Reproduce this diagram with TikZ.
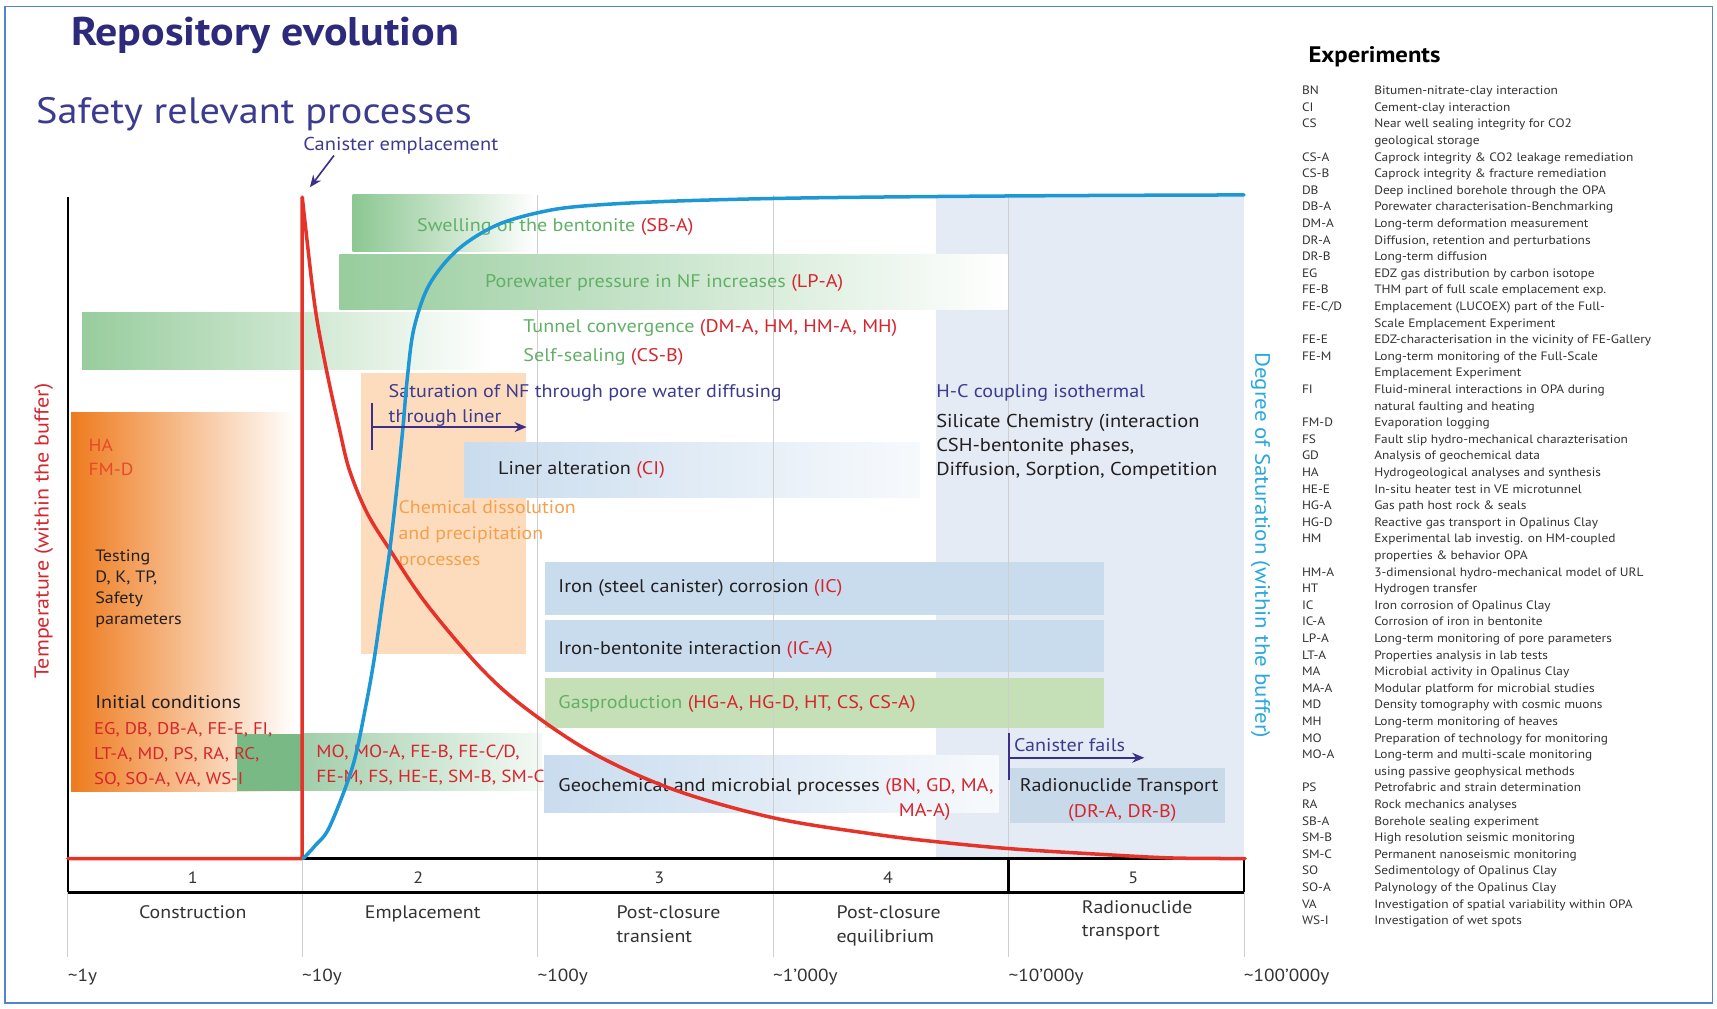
\documentclass[tikz,border=0pt]{standalone}
\usepackage{fontspec}
\setmainfont{PT Sans}[FakeStretch=1.1]
\usetikzlibrary{arrows.meta}
\definecolor{navy}{HTML}{2D2A7B}
\definecolor{navyb}{HTML}{3C3C8F}
\definecolor{navyarrow}{HTML}{3B2F8A}
\definecolor{tred}{HTML}{D6262D}
\definecolor{hared}{HTML}{E54B2B}
\definecolor{tgreen}{HTML}{62B066}
\definecolor{torange}{HTML}{F4A04C}
\definecolor{curvered}{HTML}{E5332A}
\definecolor{curveblue}{HTML}{1D98D5}
\definecolor{satblue}{HTML}{29A8DF}
\definecolor{boxblue}{HTML}{C9DCEE}
\definecolor{radblue}{HTML}{C8DAEA}
\definecolor{bgblue}{HTML}{E4EBF4}
\definecolor{gasgreen}{HTML}{C5E0B6}
\definecolor{mgreen}{HTML}{8CC792}
\definecolor{dgreen}{HTML}{79B986}
\definecolor{dorange}{HTML}{EE7B1E}
\definecolor{peach}{HTML}{FDDCBD}
\definecolor{gridgrey}{HTML}{CFCFCF}
\definecolor{frameblue}{HTML}{4F86D0}
\definecolor{listgrey}{HTML}{333333}
\definecolor{bodyblack}{HTML}{231F20}
\newcommand{\fsz}[2]{\fontsize{#1}{#2}\selectfont}
\newcommand{\mlines}[1]{\begin{tabular}[t]{@{}l@{}}#1\end{tabular}}
\newcommand{\rf}[1]{{\color{tred}#1}}
\begin{document}
\begin{tikzpicture}[x=1pt,y=-1pt,
  t/.style={inner sep=0pt, outer sep=0pt, anchor=base west, font=\fsz{16.7}{23}, text=bodyblack},
  tc/.style={t, anchor=base},
  lst/.style={inner sep=0pt, outer sep=0pt, anchor=base west, font=\fsz{11.1}{13}, text=listgrey},
  yr/.style={t, font=\fsz{16}{18}, text=listgrey},
  ph/.style={t, font=\fsz{16.5}{21.5}, text=listgrey},
  gridl/.style={draw=gridgrey, line width=0.8pt},
  axisl/.style={draw=black, line width=2pt},
  arr/.style={draw=navyarrow, line width=1.8pt, -{Stealth[length=11pt,width=9pt]}},
  tick/.style={draw=navyarrow, line width=1.8pt},
]
\useasboundingbox (0,0) rectangle (1568,921);
\fill[white] (0,0) rectangle (1568,921);
\draw[frameblue, line width=1.2pt] (4.5,6) rectangle (1564,916);

% ---------- background boxes ----------
\fill[bgblue] (855,178) rectangle (1136,784);
\shade[left color=mgreen, right color=white] (322,178) rectangle (490,230);
\shade[left color=mgreen!90, right color=white] (310,232) rectangle (920,283);
\shade[left color=mgreen!90, right color=white] (75,285) rectangle (450,337);
\shade[left color=dorange, right color=white] (65,377) rectangle (270,723);
\fill[dgreen] (216,670) rectangle (276,722);
\shade[left color=dgreen!70, right color=dgreen!8] (276,670) rectangle (495,722);
\fill[peach] (330,341) rectangle (480,597);
\shade[left color=boxblue, right color=boxblue!15] (424,404) rectangle (840,454);
\fill[boxblue] (498,513) rectangle (1008,562);
\fill[boxblue] (498,566) rectangle (1008,614);
\fill[gasgreen] (498,619) rectangle (1008,665);
\shade[left color=boxblue, right color=boxblue!15] (497,690) rectangle (912,742);
\fill[radblue] (922,701) rectangle (1119,752);

% ---------- grid lines ----------
\foreach \gx in {491,706,921} { \draw[gridl] (\gx,178) -- (\gx,874); }
\foreach \gx in {62,276,1136} { \draw[gridl] (\gx,815) -- (\gx,874); }
\draw[gridl] (276,784) -- (276,815);

% ---------- axis box ----------
\draw[axisl] (62,180) -- (62,815);
\draw[axisl] (62,784) -- (1136,784);
\draw[axisl] (62,815) -- (1136,815);
\draw[axisl] (1136,784) -- (1136,815);
\draw[axisl] (921,784) -- (921,815);

% ---------- titles ----------
\node[t, font=\fsz{36.5}{38}\bfseries, text=navy] (title) at (65,42) {Repository evolution};
\node[t, font=\fsz{33.5}{36}, text=navyb] (safety) at (33,113) {Safety relevant processes};
\node[t, font=\fsz{17}{20}, text=navyb] (canemp) at (277,137) {Canister emplacement};

% ---------- process texts ----------
\node[t, text=tgreen] (swell) at (381,211) {Swelling of the bentonite \rf{(SB-A)}};
\node[t, text=tgreen] (porew) at (443,263) {Porewater pressure in NF increases \rf{(LP-A)}};
\node[t, text=tgreen, font=\fsz{16.7}{26}] (tunnel) at (478,304) {\mlines{Tunnel convergence \rf{(DM-A, HM, HM-A, MH)}\\Self-sealing \rf{(CS-B)}}};
\node[t, text=navyb, font=\fsz{16.7}{23}] (satur) at (355,363) {\mlines{Saturation of NF through pore water diffusing\\through liner}};
\node[t] (liner) at (455,433) {Liner alteration \rf{(CI)}};
\node[t, text=torange, font=\fsz{16.5}{23.5}] (chem) at (364,469) {\mlines{Chemical dissolution\\and precipitation\\processes}};
\node[t, text=hared, font=\fsz{16}{22}] (ha) at (81,412) {\mlines{HA\\FM-D}};
\node[t, font=\fsz{15}{19}] (testing) at (87,513) {\mlines{Testing\\D, K, TP,\\Safety\\parameters}};
\node[t, font=\fsz{16.8}{20}] (initc) at (87,647) {Initial conditions};
\node[t, text=tred, font=\fsz{15.5}{22.5}] (initr) at (86,671) {\mlines{EG, DB, DB-A, FE-E, FI,\\LT-A, MD, PS, RA, RC,\\SO, SO-A, VA, WS-I}};
\node[t, text=tred, font=\fsz{16}{23}] (mo) at (289,692) {\mlines{MO, MO-A, FE-B, FE-C/D,\\FE-M, FS, HE-E, SM-B, SM-C}};
\node[t] (iron) at (510,541) {Iron (steel canister) corrosion \rf{(IC)}};
\node[t] (ironb) at (510,598) {Iron-bentonite interaction \rf{(IC-A)}};
\node[t, text=tgreen] (gas) at (510,647) {Gasproduction \rf{(HG-A, HG-D, HT, CS, CS-A)}};
\node[t] (geo) at (510,723) {Geochemical and microbial processes \rf{(BN, GD, MA,}};
\node[t, anchor=base east, text=tred] (geo2) at (868,746) {MA-A)};
\node[tc] (radio) at (1022,723) {Radionuclide Transport};
\node[tc, text=tred] (radio2) at (1025,747) {(DR-A, DR-B)};
\node[t, text=navyb] (canfail) at (926,686) {Canister fails};
\node[t, text=navyb] (hc) at (855,363) {H-C coupling isothermal};
\node[t, font=\fsz{17}{22}] (sil) at (855,390) {\mlines{Silicate Chemistry (interaction\\CSH-bentonite phases,\\Diffusion, Sorption, Competition}};

% ---------- axis labels ----------
\node[inner sep=0pt, font=\fsz{18.3}{20}, text=tred, rotate=90] (templbl) at (40,485) {Temperature (within the buffer)};
\node[inner sep=0pt, font=\fsz{19}{20}, text=satblue, rotate=-90] (satlbl) at (1151,498) {Degree of Saturation (within the buffer)};

% ---------- phase numbers and names ----------
\node[tc, font=\fsz{15}{18}, text=listgrey] (n1) at (176,807) {1};
\node[tc, font=\fsz{15}{18}, text=listgrey] (n2) at (382,807) {2};
\node[tc, font=\fsz{15}{18}, text=listgrey] (n3) at (602,807) {3};
\node[tc, font=\fsz{15}{18}, text=listgrey] (n4) at (811,807) {4};
\node[tc, font=\fsz{15}{18}, text=listgrey] (n5) at (1035,807) {5};
\node[ph, anchor=base] (p1) at (176,839) {Construction};
\node[ph, anchor=base] (p2) at (386,839) {Emplacement};
\node[ph] (p3) at (563,839) {\mlines{Post-closure\\transient}};
\node[ph] (p4) at (764,839) {\mlines{Post-closure\\equilibrium}};
\node[ph] (p5) at (988,834) {\mlines{Radionuclide\\transport}};
\node[yr] (y1) at (62,896) {\textasciitilde 1y};
\node[yr] (y2) at (276,896) {\textasciitilde 10y};
\node[yr] (y3) at (491,896) {\textasciitilde 100y};
\node[yr] (y4) at (706,896) {\textasciitilde 1’000y};
\node[yr] (y5) at (921,896) {\textasciitilde 10’000y};
\node[yr] (y6) at (1136,896) {\textasciitilde 100’000y};

% ---------- curves ----------
\draw[curvered, line width=3.2pt, line join=round, line cap=round]
  (62,784) -- (276,784) -- (276,180)
  plot[smooth, tension=0.55] coordinates {(276,180) (281,225) (286,268) (291,301) (300,347) (310,392) (319,429) (335,468) (356,502) (389,551) (438,609) (479,646) (540,687) (615,721) (707,747) (800,762) (858,769) (922,775) (1002,780) (1070,783.5) (1137,784)};
\draw[curveblue, line width=3.2pt, line cap=round]
  plot[smooth, tension=0.55] coordinates {(277,784) (288,772) (301,755) (322,700) (334,645) (342,600) (349,551) (356,502) (363,440) (368,390) (372,345) (378,300) (392,260) (418,228) (455,205) (502,192) (548,187) (620,183.5) (720,181) (850,179.5) (1000,178.5) (1136,178)};

% ---------- arrows ----------
\coordinate (ce1) at (305,142);
\coordinate (ce2) at (283,171);
\draw[arr, line width=1.5pt] (ce1) -- (ce2);
\coordinate (st1) at (340,368);
\coordinate (st2) at (340,411);
\coordinate (sa1) at (340,390);
\coordinate (sa2) at (481,390);
\draw[tick] (st1) -- (st2);
\draw[arr] (sa1) -- (sa2);
\coordinate (ct1) at (921,669);
\coordinate (ct2) at (921,712);
\coordinate (ca1) at (921,692);
\coordinate (ca2) at (1045,692);
\draw[tick] (ct1) -- (ct2);
\draw[arr] (ca1) -- (ca2);

% ---------- experiments list ----------
\node[t, font=\fsz{20.5}{22}\bfseries, text=black] (exphead) at (1195,57) {Experiments};
\foreach \ab/\de [count=\i] in {
 {BN}/{Bitumen-nitrate-clay interaction},
 {CI}/{Cement-clay interaction},
 {CS}/{Near well sealing integrity for CO2},
 {}/{geological storage},
 {CS-A}/{Caprock integrity \& CO2 leakage remediation},
 {CS-B}/{Caprock integrity \& fracture remediation},
 {DB}/{Deep inclined borehole through the OPA},
 {DB-A}/{Porewater characterisation-Benchmarking},
 {DM-A}/{Long-term deformation measurement},
 {DR-A}/{Diffusion, retention and perturbations},
 {DR-B}/{Long-term diffusion},
 {EG}/{EDZ gas distribution by carbon isotope},
 {FE-B}/{THM part of full scale emplacement exp.},
 {FE-C/D}/{Emplacement (LUCOEX) part of the Full-},
 {}/{Scale Emplacement Experiment},
 {FE-E}/{EDZ-characterisation in the vicinity of FE-Gallery},
 {FE-M}/{Long-term monitoring of the Full-Scale},
 {}/{Emplacement Experiment},
 {FI}/{Fluid-mineral interactions in OPA during},
 {}/{natural faulting and heating},
 {FM-D}/{Evaporation logging},
 {FS}/{Fault slip hydro-mechanical charazterisation},
 {GD}/{Analysis of geochemical data},
 {HA}/{Hydrogeological analyses and synthesis},
 {HE-E}/{In-situ heater test in VE microtunnel},
 {HG-A}/{Gas path host rock \& seals},
 {HG-D}/{Reactive gas transport in Opalinus Clay},
 {HM}/{Experimental lab investig. on HM-coupled},
 {}/{properties \& behavior OPA},
 {HM-A}/{3-dimensional hydro-mechanical model of URL},
 {HT}/{Hydrogen transfer},
 {IC}/{Iron corrosion of Opalinus Clay},
 {IC-A}/{Corrosion of iron in bentonite},
 {LP-A}/{Long-term monitoring of pore parameters},
 {LT-A}/{Properties analysis in lab tests},
 {MA}/{Microbial activity in Opalinus Clay},
 {MA-A}/{Modular platform for microbial studies},
 {MD}/{Density tomography with cosmic muons},
 {MH}/{Long-term monitoring of heaves},
 {MO}/{Preparation of technology for monitoring},
 {MO-A}/{Long-term and multi-scale monitoring},
 {}/{using passive geophysical methods},
 {PS}/{Petrofabric and strain determination},
 {RA}/{Rock mechanics analyses},
 {SB-A}/{Borehole sealing experiment},
 {SM-B}/{High resolution seismic monitoring},
 {SM-C}/{Permanent nanoseismic monitoring},
 {SO}/{Sedimentology of Opalinus Clay},
 {SO-A}/{Palynology of the Opalinus Clay},
 {VA}/{Investigation of spatial variability within OPA},
 {WS-I}/{Investigation of wet spots}} {
  \node[lst] (ab\i) at (1189,{86.5+(\i-1)*15.16}) {\ab};
  \node[lst] (de\i) at (1255,{86.5+(\i-1)*15.16}) {\de};
}
\end{tikzpicture}
\end{document}
